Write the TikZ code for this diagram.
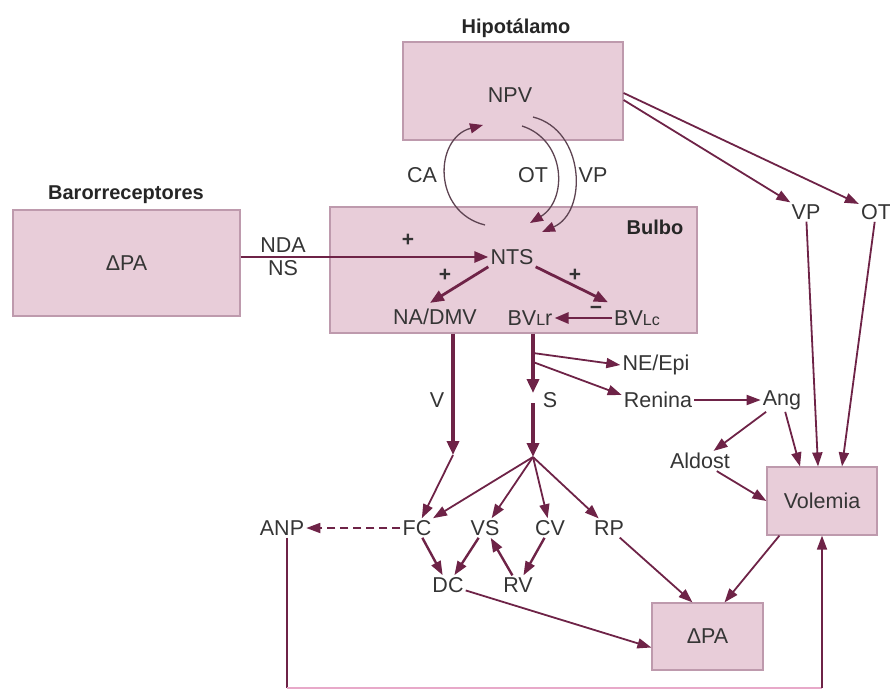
\documentclass[tikz,border=0pt]{standalone}
\usepackage{fontspec}
\setmainfont{Liberation Sans}
\usetikzlibrary{arrows.meta}
\definecolor{boxpink}{HTML}{E8CDD9}
\definecolor{boxline}{HTML}{BE9AAD}
\definecolor{arrowred}{HTML}{6E2347}
\definecolor{arcgray}{HTML}{5E4452}
\definecolor{txtgray}{HTML}{353535}
\definecolor{looppink}{HTML}{E8A9C9}

\begin{document}
\begin{tikzpicture}[x=1pt, y=-1pt,
    every node/.style={font=\fontsize{21.5}{23}\selectfont, text=txtgray, inner sep=2pt},
    region/.style={draw=boxline, fill=boxpink, line width=1.2pt},
    title/.style={font=\fontsize{20}{22}\selectfont\bfseries, text=black!85},
    sign/.style={font=\fontsize{21}{22}\selectfont\bfseries, text=black!80},
    arr/.style={draw=arrowred, line width=1.8pt, -{Triangle[length=14pt, width=10pt]}},
    arc/.style={draw=arcgray, line width=1.3pt, -{Triangle[length=13pt, width=10pt, color=arrowred]}},
    midarr/.style={arr, line width=2.8pt, -{Triangle[length=14pt, width=11pt]}},
    fatarr/.style={arr, line width=4.8pt, -{Triangle[length=14pt, width=12pt]}}]
  \useasboundingbox (0,0) rectangle (890,691);

  % boxes
  \node[region, minimum width=220pt, minimum height=98pt] (hip) at (513,91) {};
  \node[region, minimum width=227pt, minimum height=106pt] (baro) at (126.5,263) {ΔPA};
  \node[region, minimum width=367pt, minimum height=126pt] (bulbo) at (513.5,270) {};
  \node[region, minimum width=110pt, minimum height=68pt] (vol) at (822,501) {Volemia};
  \node[region, minimum width=111pt, minimum height=67pt] (dpa) at (707.5,636.5) {ΔPA};

  \node[title] (hiptitle) at (516,28) {Hipotálamo};
  \node[title] (barotitle) at (126,195) {Barorreceptores};
  \node[title] (bulbotitle) at (655,227) {Bulbo};

  % labels
  \node (npv) at (510,95) {NPV};
  \node (nda) at (283,245) {NDA};
  \node (ns) at (283,268) {NS};
  \node (nts) at (512,257) {NTS};
  \node (nadmv) at (435,317) {NA/DMV};
  \node (bvlr) at (530,318) {BV{\fontsize{16}{17}\selectfont L}r};
  \node (bvlc) at (637,318) {BV{\fontsize{16}{17}\selectfont Lc}};
  \node[sign] (plusa) at (408,240) {+};
  \node[sign] (plusb) at (445,275) {+};
  \node[sign] (plusc) at (575,275) {+};
  \node[sign] (minus) at (596,310) {−};

  \node (ca) at (422,175) {CA};
  \node (otl) at (533,175) {OT};
  \node (vpl) at (593,175) {VP};
  \node (vpr) at (806,212) {VP};
  \node (otr) at (876,212) {OT};

  \node (neepi) at (656,365) {NE/Epi};
  \node (ren) at (658,400) {Renina};
  \node (ang) at (782,400) {Ang};
  \node (ald) at (700,461) {Aldost};
  \node (vlab) at (437,400) {V};
  \node (slab) at (550,400) {S};

  \node (anp) at (282,528) {ANP};
  \node (fc) at (417,528) {FC};
  \node (vs) at (485,528) {VS};
  \node (cv) at (550,528) {CV};
  \node (rp) at (609,528) {RP};
  \node (dc) at (448,585) {DC};
  \node (rv) at (518,585) {RV};

  \coordinate (ca1) at (485,225);
  \coordinate (ca2) at (483,125);
  \coordinate (ot1) at (522,126);
  \coordinate (ot2) at (530,223);
  \coordinate (vp1) at (533,117);
  \coordinate (vp2) at (542,232);
  \coordinate (vend) at (453,455);
  \coordinate (sfan) at (533,457);
  \coordinate (sgap) at (533,393);
  \coordinate (sgo) at (533,403);
  \coordinate (sne) at (533,353);
  \coordinate (sren) at (533,362);
  \coordinate (bot) at (0,688);

  % hypothalamus loops
  \draw[arc] (ca1) .. controls (432,212) and (434,138) .. (ca2);
  \draw[arc] (ot1) .. controls (566,140) and (568,200) .. (ot2);
  \draw[arc] (vp1) .. controls (585,130) and (588,212) .. (vp2);
  \draw[arr] ([yshift=-9pt]hip.east) -- (vpr);
  \draw[arr] ([yshift=-2pt]hip.east) -- (otr);

  % bulbo
  \draw[midarr] (baro.east |- nts.west) -- (nts.west);
  \draw[midarr] (nts.south west) -- ([xshift=-5pt, yshift=4pt]nadmv.north);
  \draw[midarr] (nts.south east) -- ([shift={(-4pt,6pt)}]bvlc.north west);
  \draw[midarr] (bvlc.west) -- (bvlr.east);

  % efferents
  \draw[fatarr] (bulbo.south -| vend) -- (vend);
  \draw[fatarr] (bulbo.south -| sfan) -- (sgap);
  \draw[fatarr] (sgo) -- (sfan);
  \draw[arr] (sne) -- (neepi.west);
  \draw[arr] (sren) -- ([yshift=5pt]ren.west);
  \draw[arr] (ren) -- (ang);
  \draw[arr] (ang) -- (ald);
  \draw[arr] (ang) -- ([xshift=-22pt]vol.north);
  \draw[arr] (vpr) -- ([xshift=-4pt]vol.north);
  \draw[arr] (otr) -- ([xshift=20pt]vol.north);
  \draw[arr] (ald) -- (vol.west);

  \draw[arr] (vend) -- (fc);
  \foreach \t in {fc,vs,cv,rp}
    \draw[arr] (sfan) -- (\t);
  \draw[arr, dash pattern=on 8pt off 5pt] (fc) -- (anp);
  \draw[arr, line width=2.4pt] (fc) -- (dc);
  \draw[arr, line width=2.4pt] (vs) -- (dc);
  \draw[arr, line width=2.4pt] (rv) -- (vs);
  \draw[arr, line width=2.4pt] (cv) -- (rv);
  \draw[arr] (dc) -- ([yshift=-11pt]dpa.west);
  \draw[arr] (rp) -- ([xshift=-15pt]dpa.north);
  \draw[arr] ([xshift=13pt]vol.south west) -- ([xshift=17pt]dpa.north);

  % loop back to volemia
  \draw[draw=arrowred, line width=1.6pt] ([xshift=5pt]anp.south) -- ([xshift=5pt]anp.south |- bot);
  \draw[draw=looppink, line width=1.6pt] ([xshift=5pt]anp.south |- bot) -- (vol.south |- bot);
  \draw[arr] (vol.south |- bot) -- (vol.south);
\end{tikzpicture}
\end{document}
